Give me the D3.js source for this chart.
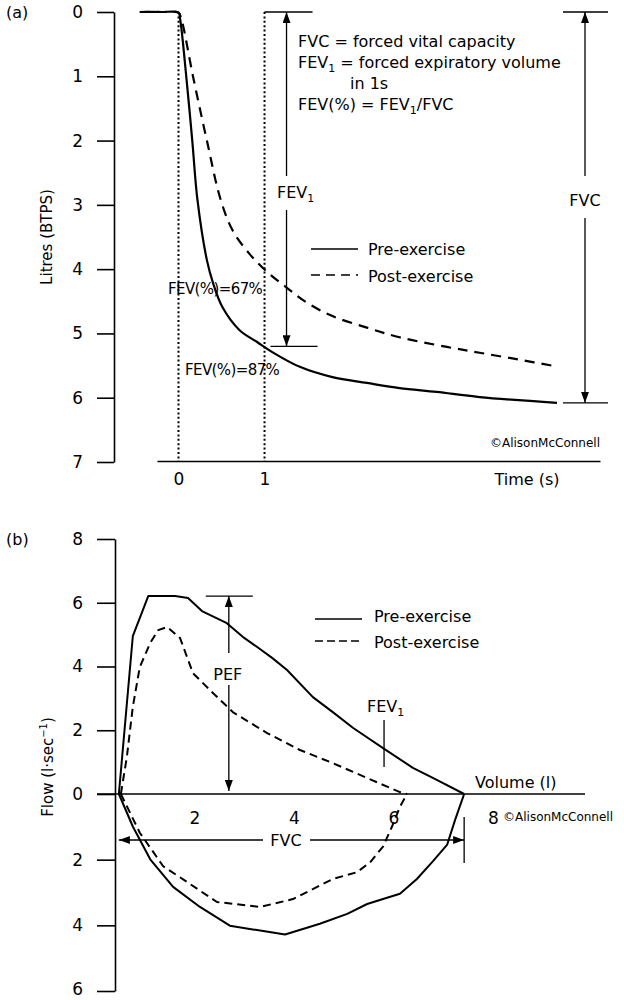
<!DOCTYPE html>
<html>
<head>
<meta charset="utf-8">
<script src="https://cdn.jsdelivr.net/npm/d3@7"></script>
<style>
  body { margin: 0; background: #fff; }
  text { font-family: "DejaVu Sans", sans-serif; fill: #000; }
</style>
</head>
<body>
<svg id="chart" width="624" height="1000"></svg>
<script>
// ---- (a) volume-time spirogram ----
const spiroTimePre = [-0.45, -0.2, 0, 0.02, 0.09, 0.16, 0.22, 0.33, 0.40, 0.51, 0.71, 0.91, 1.09, 1.41, 1.79, 2.19, 2.57, 3.0, 3.5, 4.4];
const spiroVolPre  = [0, 0, 0.01, 0.12, 1.0, 2.0, 2.92, 3.86, 4.21, 4.59, 4.95, 5.13, 5.29, 5.52, 5.68, 5.77, 5.85, 5.91, 5.99, 6.08];
const spiroTimePost = [-0.45, -0.2, 0, 0.035, 0.17, 0.33, 0.49, 0.63, 0.83, 1.02, 1.26, 1.49, 1.79, 2.19, 2.57, 3.12, 3.5, 3.97, 4.38];
const spiroVolPost  = [0, 0, 0.01, 0.12, 1.01, 2.0, 2.92, 3.40, 3.77, 4.03, 4.29, 4.52, 4.73, 4.91, 5.06, 5.21, 5.3, 5.41, 5.51];
const litreTicks = [0, 1, 2, 3, 4, 5, 6, 7];
const timeTicks = [0, 1];
const fev1Pre = 5.2;   // litres at 1 s
const fvcPre = 6.08;

// ---- (b) flow-volume loop ----
const loopPreOutVol  = [0.48, 0.76, 1.07, 1.61, 1.87, 2.15, 2.65, 2.97, 3.26, 3.56, 3.86, 4.38, 4.78, 5.19, 5.79, 6.39, 6.87, 7.42];
const loopPreOutFlow = [0, 4.95, 6.21, 6.21, 6.15, 5.74, 5.36, 4.93, 4.61, 4.27, 3.89, 3.04, 2.57, 2.07, 1.44, 0.82, 0.44, 0];
const loopPreInVol   = [0.48, 0.76, 1.11, 1.57, 2.11, 2.71, 3.32, 3.82, 4.52, 5.07, 5.47, 5.79, 6.13, 6.47, 6.79, 7.08, 7.24, 7.42];
const loopPreInFlow  = [0, -0.99, -1.99, -2.83, -3.44, -4.01, -4.16, -4.28, -3.95, -3.65, -3.35, -3.2, -3.04, -2.59, -2.05, -1.54, -0.78, 0];
const loopPostOutVol  = [0.52, 0.64, 0.76, 0.9, 1.11, 1.27, 1.45, 1.71, 1.97, 2.37, 2.77, 3.46, 4.12, 4.78, 5.47, 6.13, 6.27];
const loopPostOutFlow = [0, 1.16, 2.73, 3.98, 4.74, 5.14, 5.24, 4.89, 3.79, 3.17, 2.57, 1.91, 1.38, 0.97, 0.5, 0.06, 0];
const loopPostInVol   = [0.52, 0.9, 1.37, 1.85, 2.45, 3.32, 3.98, 4.78, 5.27, 5.53, 5.79, 5.97, 6.13, 6.27];
const loopPostInFlow  = [0, -1.18, -2.2, -2.68, -3.29, -3.44, -3.2, -2.59, -2.38, -2.08, -1.6, -0.99, -0.39, 0];
const flowTicks = [8, 6, 4, 2, 0, -2, -4, -6];
const volumeTicks = [2, 4, 6, 8];
const pefPre = 6.21;
const pefVol = 2.69;
const fev1Vol = 5.81;

const svg = d3.select('#chart');
const intFmt = d3.format('d');

// arrow head
svg.append('defs').append('marker')
  .attr('id', 'arrow')
  .attr('viewBox', '0 0 11 8')
  .attr('refX', 11).attr('refY', 4)
  .attr('markerWidth', 11).attr('markerHeight', 8)
  .attr('markerUnits', 'userSpaceOnUse')
  .attr('orient', 'auto-start-reverse')
  .append('path').attr('d', 'M0,0L11,4L0,8Z').attr('fill', '#000');

function line(g, x1, y1, x2, y2, w) {
  return g.append('line')
    .attr('x1', x1).attr('y1', y1).attr('x2', x2).attr('y2', y2)
    .attr('stroke', '#000').attr('stroke-width', w || 1.3);
}

function fevLabel(g, x, y, size, rest) {
  const t = g.append('text').attr('x', x).attr('y', y).attr('font-size', size);
  t.append('tspan').text('FEV');
  t.append('tspan').attr('dy', 4).attr('font-size', size * 0.68).text('1');
  if (rest) t.append('tspan').attr('dy', -4).text(rest);
  return t;
}

// ===================== panel (a) =====================
const ga = svg.append('g');
const xT = d3.scaleLinear().domain([-0.25, 4.9]).range([157, 600]);
const yL = d3.scaleLinear().domain([0, 7]).range([12, 462]);

ga.append('text').attr('x', 6).attr('y', 18).attr('font-size', 16).text('(a)');

const yAxisA = ga.append('g').attr('transform', 'translate(114,0)')
  .call(d3.axisLeft(yL).tickValues(litreTicks).tickFormat(intFmt)
    .tickSize(17).tickSizeOuter(0).tickPadding(14));
yAxisA.selectAll('path, line').attr('stroke', '#000').attr('stroke-width', 1.6);
yAxisA.selectAll('text').attr('font-size', 17).attr('font-family', '"DejaVu Sans", sans-serif');

ga.append('text')
  .attr('transform', 'translate(52,237) rotate(-90)')
  .attr('text-anchor', 'middle').attr('font-size', 15)
  .text('Litres (BTPS)');

const xAxisA = ga.append('g').attr('transform', 'translate(0,461)')
  .call(d3.axisBottom(xT).tickValues(timeTicks).tickFormat(intFmt)
    .tickSize(0).tickSizeOuter(0).tickPadding(12));
xAxisA.select('.domain').attr('stroke', '#000').attr('stroke-width', 1.6);
xAxisA.selectAll('text').attr('font-size', 17).attr('font-family', '"DejaVu Sans", sans-serif');

ga.append('text').attr('x', 527).attr('y', 485).attr('text-anchor', 'middle')
  .attr('font-size', 16).text('Time (s)');
ga.append('text').attr('x', 600).attr('y', 447).attr('text-anchor', 'end')
  .attr('font-size', 12).text('©AlisonMcConnell');

// dotted guides at 0 s and 1 s
timeTicks.forEach(t => {
  line(ga, xT(t), yL(0), xT(t), 461, 2).attr('stroke-dasharray', '2,2.4');
});

const spiroLine = d3.line().x(d => xT(d[0])).y(d => yL(d[1])).curve(d3.curveCatmullRom.alpha(0.5));
ga.append('path').datum(d3.zip(spiroTimePre, spiroVolPre))
  .attr('d', spiroLine).attr('fill', 'none').attr('stroke', '#000').attr('stroke-width', 2.2);
ga.append('path').datum(d3.zip(spiroTimePost, spiroVolPost))
  .attr('d', spiroLine).attr('fill', 'none').attr('stroke', '#000').attr('stroke-width', 2.2)
  .attr('stroke-dasharray', '10,7');

// FEV1 arrow
const fevX = xT(1) + 22;
line(ga, xT(1), yL(0), xT(1) + 48, yL(0));
line(ga, fevX, 176, fevX, yL(0)).attr('marker-end', 'url(#arrow)');
line(ga, fevX, 210, fevX, yL(fev1Pre)).attr('marker-end', 'url(#arrow)');
line(ga, fevX - 16, yL(fev1Pre), fevX + 31, yL(fev1Pre));
fevLabel(ga, 277, 198, 16);

// FVC arrow
const fvcX = 585;
line(ga, fvcX - 22, yL(0), fvcX + 23, yL(0));
line(ga, fvcX - 22, yL(fvcPre), fvcX + 23, yL(fvcPre));
line(ga, fvcX, 176, fvcX, yL(0)).attr('marker-end', 'url(#arrow)');
line(ga, fvcX, 218, fvcX, yL(fvcPre)).attr('marker-end', 'url(#arrow)');
ga.append('text').attr('x', fvcX).attr('y', 206).attr('text-anchor', 'middle')
  .attr('font-size', 16).text('FVC');

// definitions
ga.append('text').attr('x', 298).attr('y', 47).attr('font-size', 16).text('FVC = forced vital capacity');
fevLabel(ga, 298, 68, 16, ' = forced expiratory volume');
ga.append('text').attr('x', 350).attr('y', 89).attr('font-size', 16).text('in 1s');
const defLast = ga.append('text').attr('x', 298).attr('y', 110).attr('font-size', 16);
defLast.append('tspan').text('FEV(%) = FEV');
defLast.append('tspan').attr('dy', 4).attr('font-size', 11).text('1');
defLast.append('tspan').attr('dy', -4).text('/FVC');

ga.append('text').attr('x', 168).attr('y', 294).attr('font-size', 15)
  .attr('letter-spacing', -0.6).text('FEV(%)=67%');
ga.append('text').attr('x', 185).attr('y', 375).attr('font-size', 15)
  .attr('letter-spacing', -0.6).text('FEV(%)=87%');

// legend
line(ga, 311, 249, 358, 249, 1.5);
line(ga, 311, 275, 358, 275, 1.5).attr('stroke-dasharray', '9,6');
ga.append('text').attr('x', 368).attr('y', 255).attr('font-size', 16).text('Pre-exercise');
ga.append('text').attr('x', 368).attr('y', 282).attr('font-size', 16).text('Post-exercise');

// ===================== panel (b) =====================
const gb = svg.append('g');
const xV = d3.scaleLinear().domain([0, 8]).range([95, 493]);
const yF = d3.scaleLinear().domain([-6, 0, 8]).range([991, 794, 539]);

gb.append('text').attr('x', 6).attr('y', 545).attr('font-size', 16).text('(b)');

const yAxisB = gb.append('g').attr('transform', 'translate(115,0)')
  .call(d3.axisLeft(yF).tickValues(flowTicks).tickFormat(d => Math.abs(d))
    .tickSize(18).tickSizeOuter(0).tickPadding(14));
yAxisB.selectAll('path, line').attr('stroke', '#000').attr('stroke-width', 1.6);
yAxisB.selectAll('text').attr('font-size', 17).attr('font-family', '"DejaVu Sans", sans-serif');
yAxisB.selectAll('.tick').filter(d => d === -6).select('text').attr('dy', '0.2em');

const flowLab = gb.append('text')
  .attr('transform', 'translate(53,767) rotate(-90)')
  .attr('text-anchor', 'middle').attr('font-size', 15);
flowLab.append('tspan').text('Flow (l·sec');
flowLab.append('tspan').attr('dy', -6).attr('font-size', 10).text('−1');
flowLab.append('tspan').attr('dy', 6).text(')');

// zero (volume) line
line(gb, 97, yF(0), 585, yF(0), 1.6);
const xAxisB = gb.append('g').attr('transform', `translate(0,${yF(0)})`)
  .call(d3.axisBottom(xV).tickValues(volumeTicks).tickSize(0).tickPadding(18));
xAxisB.select('.domain').remove();
xAxisB.selectAll('text').attr('font-size', 17).attr('font-family', '"DejaVu Sans", sans-serif');

gb.append('text').attr('x', 475).attr('y', 788).attr('font-size', 16).text('Volume (l)');
gb.append('text').attr('x', 503).attr('y', 821).attr('font-size', 12).text('©AlisonMcConnell');

const loopLine = d3.line().x(d => xV(d[0])).y(d => yF(d[1]));
[[loopPreOutVol, loopPreOutFlow, null], [loopPreInVol, loopPreInFlow, null],
 [loopPostOutVol, loopPostOutFlow, '8,5'], [loopPostInVol, loopPostInFlow, '8,5']]
  .forEach(([v, f, dash]) => {
    gb.append('path').datum(d3.zip(v, f))
      .attr('d', loopLine).attr('fill', 'none').attr('stroke', '#000')
      .attr('stroke-width', 2).attr('stroke-linejoin', 'round')
      .attr('stroke-dasharray', dash);
  });

// PEF arrow
const pefX = xV(pefVol);
line(gb, pefX - 23, yF(pefPre), pefX + 24, yF(pefPre));
line(gb, pefX, 653, pefX, yF(pefPre)).attr('marker-end', 'url(#arrow)');
line(gb, pefX, 685, pefX, yF(0) - 3).attr('marker-end', 'url(#arrow)');
gb.append('text').attr('x', pefX - 1).attr('y', 680).attr('text-anchor', 'middle')
  .attr('font-size', 16).text('PEF');

// FEV1 mark on the loop
line(gb, xV(fev1Vol), 720, xV(fev1Vol), 767);
fevLabel(gb, 367, 712, 16);

// FVC arrow
const fvcY = 840;
line(gb, 263, fvcY, xV(loopPreOutVol[0]), fvcY).attr('marker-end', 'url(#arrow)');
line(gb, 310, fvcY, xV(7.42), fvcY).attr('marker-end', 'url(#arrow)');
line(gb, xV(7.42), 817, xV(7.42), 863);
gb.append('text').attr('x', 286).attr('y', 846).attr('text-anchor', 'middle')
  .attr('font-size', 16).text('FVC');

// legend
line(gb, 315, 619, 362, 619, 1.5);
line(gb, 315, 641, 362, 641, 1.5).attr('stroke-dasharray', '8,4');
gb.append('text').attr('x', 374).attr('y', 622).attr('font-size', 16).text('Pre-exercise');
gb.append('text').attr('x', 374).attr('y', 648).attr('font-size', 16).text('Post-exercise');
</script>
</body>
</html>
